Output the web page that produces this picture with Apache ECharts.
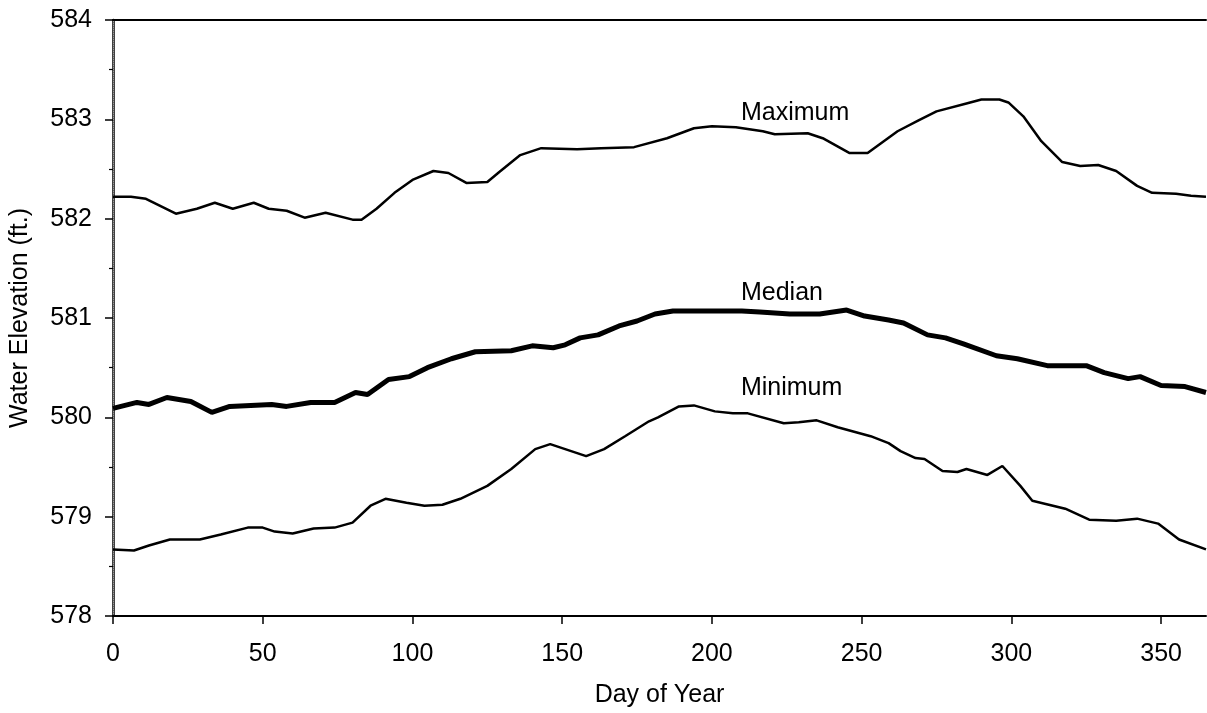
<!DOCTYPE html>
<html>
<head>
<meta charset="utf-8">
<script src="https://cdn.jsdelivr.net/npm/echarts@6/dist/echarts.min.js"></script>
<style>
  html, body { margin: 0; padding: 0; background: #fff; }
  #chart { width: 1207px; height: 713px; }
</style>
</head>
<body>
<div id="chart"></div>
<script>
// Daily water elevation envelope (ft.) through the year
const maxDays = [0, 6, 11, 21, 28, 34, 40, 47, 52, 58, 64, 71, 80, 83, 88, 94, 100, 107, 112, 118, 125, 129, 136, 143, 155, 163, 174, 185, 194, 200, 208, 217, 221, 232, 237, 246, 252, 262, 269, 275, 285, 290, 296, 299, 304, 310, 317, 323, 329, 335, 342, 347, 355, 360, 365];
const maxValues = [582.22, 582.22, 582.20, 582.05, 582.10, 582.16, 582.10, 582.16, 582.10, 582.08, 582.01, 582.06, 581.99, 581.99, 582.10, 582.26, 582.39, 582.48, 582.46, 582.36, 582.37, 582.47, 582.64, 582.71, 582.70, 582.71, 582.72, 582.81, 582.91, 582.93, 582.92, 582.88, 582.85, 582.86, 582.81, 582.66, 582.66, 582.88, 582.99, 583.08, 583.16, 583.20, 583.20, 583.17, 583.03, 582.78, 582.57, 582.53, 582.54, 582.48, 582.33, 582.26, 582.25, 582.23, 582.22];

const medianDays = [0, 8, 12, 18, 26, 33, 39, 53, 58, 66, 74, 81, 85, 92, 99, 105, 113, 121, 133, 140, 147, 151, 156, 162, 169, 175, 181, 187, 201, 210, 216, 226, 236, 245, 251, 259, 264, 272, 278, 284, 295, 302, 312, 325, 331, 339, 343, 350, 358, 365];
const medianValues = [580.09, 580.15, 580.13, 580.20, 580.16, 580.05, 580.11, 580.13, 580.11, 580.15, 580.15, 580.25, 580.23, 580.38, 580.41, 580.50, 580.59, 580.66, 580.67, 580.72, 580.70, 580.73, 580.80, 580.83, 580.92, 580.97, 581.04, 581.07, 581.07, 581.07, 581.06, 581.04, 581.04, 581.08, 581.02, 580.98, 580.95, 580.83, 580.80, 580.74, 580.62, 580.59, 580.52, 580.52, 580.45, 580.39, 580.41, 580.32, 580.31, 580.25];

const minDays = [0, 7, 12, 19, 29, 36, 45, 50, 54, 60, 67, 74, 80, 86, 91, 98, 104, 110, 116, 125, 133, 141, 146, 153, 158, 164, 171, 179, 182, 189, 194, 201, 207, 212, 224, 229, 235, 242, 253, 259, 263, 268, 271, 277, 282, 285, 292, 297, 303, 307, 318, 326, 335, 342, 349, 356, 365];
const minValues = [578.67, 578.66, 578.71, 578.77, 578.77, 578.82, 578.89, 578.89, 578.85, 578.83, 578.88, 578.89, 578.94, 579.11, 579.18, 579.14, 579.11, 579.12, 579.18, 579.31, 579.48, 579.68, 579.73, 579.66, 579.61, 579.68, 579.81, 579.96, 580.00, 580.11, 580.12, 580.06, 580.04, 580.04, 579.94, 579.95, 579.97, 579.90, 579.81, 579.74, 579.66, 579.59, 579.58, 579.46, 579.45, 579.48, 579.42, 579.51, 579.31, 579.16, 579.08, 578.97, 578.96, 578.98, 578.93, 578.77, 578.67];

const seriesNames = ['Maximum', 'Median', 'Minimum'];
const xTicks = [0, 50, 100, 150, 200, 250, 300, 350];
const yTicks = [578, 579, 580, 581, 582, 583, 584];

const pairs = (xs, ys) => xs.map((x, i) => [x, ys[i]]);

const FONT = 'Liberation Sans, Arial, sans-serif';
const textStyle = { color: '#000', fontFamily: FONT, fontSize: 25 };

// Curve labels sit just above each curve, left-aligned at the same day
const labelDay = 209.7;
const labelLevels = [583.06, 581.25, 580.29];

const chart = echarts.init(document.getElementById('chart'), null, { renderer: 'canvas' });

chart.setOption({
  backgroundColor: '#ffffff',
  animation: false,
  grid: { left: 112, right: 1, top: 20, bottom: 96, containLabel: false },
  xAxis: [
    {
      type: 'value', min: 0, max: 365, position: 'bottom',
      name: 'Day of Year', nameLocation: 'middle', nameGap: 67,
      nameTextStyle: textStyle,
      axisLine: { show: true, lineStyle: { color: '#000', width: 2 } },
      axisTick: { show: true, customValues: xTicks, length: 8, lineStyle: { color: '#000', width: 1.5 } },
      axisLabel: { customValues: xTicks, margin: 26, ...textStyle },
      splitLine: { show: false }
    },
    {
      type: 'value', min: 0, max: 365, position: 'top',
      axisLine: { show: true, lineStyle: { color: '#000', width: 2 } },
      axisTick: { show: false }, axisLabel: { show: false }, splitLine: { show: false }
    }
  ],
  yAxis: [
    {
      type: 'value', min: 578, max: 584, interval: 1, position: 'left',
      name: 'Water Elevation (ft.)', nameLocation: 'middle', nameGap: 80,
      nameTextStyle: textStyle,
      axisLine: { show: true, lineStyle: { color: '#000', width: 2.5 } },
      axisTick: { show: true, length: 8, lineStyle: { color: '#000', width: 1.5 } },
      minorTick: { show: true, splitNumber: 2, length: 4, lineStyle: { color: '#000', width: 1.2 } },
      axisLabel: { margin: 21, formatter: v => yTicks.includes(v) ? String(v) : '', ...textStyle },
      splitLine: { show: false }
    },
    {
      type: 'value', min: 578, max: 584, position: 'right',
      axisLine: { show: true, lineStyle: { color: '#9a9a9a', width: 1, type: 'dotted' } },
      axisTick: { show: false }, axisLabel: { show: false }, splitLine: { show: false }
    }
  ],
  series: [
    {
      name: seriesNames[0], type: 'line', showSymbol: false, smooth: false,
      data: pairs(maxDays, maxValues),
      lineStyle: { color: '#000', width: 2.5 }
    },
    {
      name: seriesNames[1], type: 'line', showSymbol: false, smooth: false,
      data: pairs(medianDays, medianValues),
      lineStyle: { color: '#000', width: 5 }
    },
    {
      name: seriesNames[2], type: 'line', showSymbol: false, smooth: false,
      data: pairs(minDays, minValues),
      lineStyle: { color: '#000', width: 2.5 }
    },
    {
      name: 'curve labels', type: 'scatter', symbolSize: 0, silent: true,
      itemStyle: { opacity: 1, color: '#000' },
      data: seriesNames.map((n, i) => [labelDay, labelLevels[i], n]),
      label: {
        show: true, position: 'right', distance: 0,
        formatter: p => p.data[2], ...textStyle
      }
    }
  ]
});
</script>
</body>
</html>
